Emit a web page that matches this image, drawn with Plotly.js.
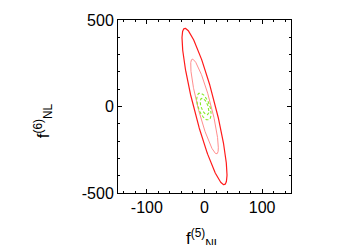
<!DOCTYPE html>
<html>
<head>
<meta charset="utf-8">
<script src="https://cdn.plot.ly/plotly-3.0.1.min.js"></script>
<style>html,body{margin:0;padding:0;background:#fff;}#plot{width:350px;height:245px;}</style>
</head>
<body>
<div id="plot"></div>
<script>
// Confidence ellipses (f_NL^(5) vs f_NL^(6))
const ellipseNames   = ["outer red", "inner red", "outer green", "inner green"];
const centerX        = [0, 0, -1, 0];
const centerY        = [0, 0, 0, 0];
const halfExtentX    = [39, 24, 12.5, 7.5];    // max |x - cx|
const halfExtentY    = [452, 274, 78, 48];     // max |y - cy|
const correlation    = [-0.87, -0.87, -0.54, -0.54];
const lineColors     = ["#ff1a1a", "#ff8080", "#88e828", "#88e828"];
const lineWidths     = [1.2, 0.9, 1.1, 1.1];
const lineDashes     = ["solid", "solid", "3px,2px", "3px,2px"];

const xTickVals = [-100, 0, 100];
const yTickVals = [-500, 0, 500];
const xTitle = "f<sup>(5)</sup><sub>NL</sub>";
const yTitle = "f<sup>(6)</sup><sub>NL</sub>";

const traces = ellipseNames.map((name, i) => {
  const xs = [], ys = [];
  const r = correlation[i], s = Math.sqrt(1 - r * r);
  for (let k = 0; k <= 360; k++) {
    const t = k * Math.PI / 180;
    xs.push(centerX[i] + halfExtentX[i] * Math.cos(t));
    ys.push(centerY[i] + halfExtentY[i] * (r * Math.cos(t) + s * Math.sin(t)));
  }
  return {x: xs, y: ys, mode: "lines", name: name, hoverinfo: "skip",
          line: {color: lineColors[i], width: lineWidths[i], dash: lineDashes[i]}};
});

const font = {family: "Liberation Sans, Arial, sans-serif", size: 16, color: "#000"};
const titleFont = {family: "Liberation Sans, Arial, sans-serif", size: 17, color: "#000"};
const axisCommon = {
  showgrid: false, zeroline: false, showline: true, linecolor: "#000", linewidth: 1,
  mirror: "allticks", ticks: "inside", ticklen: 4, tickcolor: "#000", tickwidth: 1,
  tickfont: font
};

const L = 118, W = 173, T = 20, H = 172.5;
const layout = {
  width: 350, height: 245,
  margin: {l: 118, r: 59, t: 20, b: 52},
  paper_bgcolor: "#fff", plot_bgcolor: "#fff",
  showlegend: false,
  font: font,
  xaxis: Object.assign({}, axisCommon, {
    range: [-150, 150], tickvals: xTickVals, ticktext: xTickVals.map(String),
    minor: {dtick: 20, tick0: 0, ticks: "inside", ticklen: 2, tickcolor: "#000"}
  }),
  yaxis: Object.assign({}, axisCommon, {
    range: [-500, 500], tickvals: yTickVals, ticktext: yTickVals.map(String),
    minor: {dtick: 100, tick0: 0, ticks: "inside", ticklen: 2, tickcolor: "#000"}
  }),
  annotations: [
    {text: xTitle, font: titleFont, showarrow: false, xref: "paper", yref: "paper",
     x: (203 - L) / W, y: (T + H - 224) / H, xanchor: "center", yanchor: "top", borderpad: 0},
    {text: yTitle, font: titleFont, showarrow: false, xref: "paper", yref: "paper", textangle: -90,
     x: (43 - L) / W, y: (T + H - 121) / H, xanchor: "center", yanchor: "middle", borderpad: 0}
  ]
};

Plotly.newPlot("plot", traces, layout, {staticPlot: true, displayModeBar: false});
</script>
</body>
</html>
